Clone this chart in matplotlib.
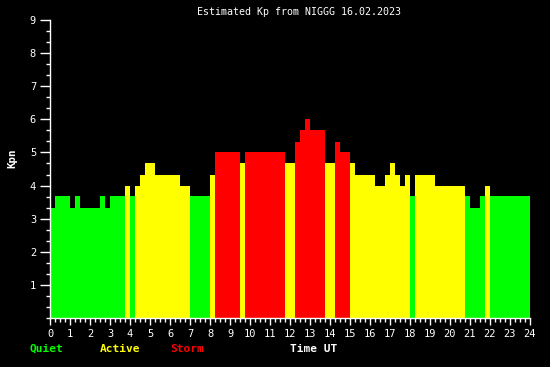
import numpy as np
import matplotlib
matplotlib.use("Agg")
import matplotlib.pyplot as plt
from matplotlib.ticker import MultipleLocator

# Estimated Kp, 15-minute steps from 00:00 UT (96 values)
kp = [
    3.33, 3.67, 3.67, 3.67, 3.33, 3.67, 3.33, 3.33, 3.33, 3.33,
    3.67, 3.33, 3.67, 3.67, 3.67, 4.00, 3.67, 4.00, 4.33, 4.67,
    4.67, 4.33, 4.33, 4.33, 4.33, 4.33, 4.00, 4.00, 3.67, 3.67,
    3.67, 3.67, 4.33, 5.00, 5.00, 5.00, 5.00, 5.00, 4.67, 5.00,
    5.00, 5.00, 5.00, 5.00, 5.00, 5.00, 5.00, 4.67, 4.67, 5.33,
    5.67, 6.00, 5.67, 5.67, 5.67, 4.67, 4.67, 5.33, 5.00, 5.00,
    4.67, 4.33, 4.33, 4.33, 4.33, 4.00, 4.00, 4.33, 4.67, 4.33,
    4.00, 4.33, 3.67, 4.33, 4.33, 4.33, 4.33, 4.00, 4.00, 4.00,
    4.00, 4.00, 4.00, 3.67, 3.33, 3.33, 3.67, 4.00, 3.67, 3.67,
    3.67, 3.67, 3.67, 3.67, 3.67, 3.67,
]
step_h = 0.25
times = np.arange(len(kp)) * step_h

title = "Estimated Kp from NIGGG 16.02.2023"
x_ticks = list(range(0, 25))
y_ticks = list(range(1, 10))
legend_items = [("Quiet", "#00ff00"), ("Active", "#ffff00"), ("Storm", "#ff0000")]

def colour(v):
    if v < 4:
        return "#00ff00"
    if v < 5:
        return "#ffff00"
    return "#ff0000"

W, H = 550, 367
fig = plt.figure(figsize=(W / 100, H / 100), dpi=100, facecolor="black")
ax = fig.add_axes([50 / W, (H - 318) / H, 480 / W, (318 - 20) / H])
ax.set_facecolor("black")

ax.bar(times, kp, width=step_h, align="edge",
       color=[colour(v) for v in kp], linewidth=0)

ax.set_xlim(0, 24)
ax.set_ylim(0, 9)
ax.set_xticks(x_ticks)
ax.set_xticklabels([str(t) for t in x_ticks])
ax.set_yticks(y_ticks)
ax.set_yticklabels([str(t) for t in y_ticks])
ax.xaxis.set_minor_locator(MultipleLocator(0.25))
ax.yaxis.set_minor_locator(MultipleLocator(1 / 3))

mono = "DejaVu Sans Mono"
for s in ("top", "right"):
    ax.spines[s].set_visible(False)
for s in ("left", "bottom"):
    ax.spines[s].set_color("white")
    ax.spines[s].set_linewidth(1)

ax.tick_params(axis="both", which="major", colors="white", length=5, width=1,
               labelsize=7.5, pad=3)
ax.tick_params(axis="both", which="minor", colors="white", length=3, width=1)
ax.tick_params(axis="y", which="major", length=7)
for lab in ax.get_xticklabels() + ax.get_yticklabels():
    lab.set_fontfamily(mono)

fig.text(299 / W, 1 - 12 / H, title, color="white", family=mono,
         fontsize=7.2, ha="center", va="center")
fig.text(12 / W, 1 - 158 / H, "Kpn", color="white", family=mono,
         fontweight="bold", fontsize=7.8, rotation=90, ha="center", va="center")

legend_x = [30, 100, 170]
for (name, col), x in zip(legend_items, legend_x):
    fig.text(x / W, 1 - 349 / H, name, color=col, family=mono,
             fontweight="bold", fontsize=8, ha="left", va="center")
fig.text(314 / W, 1 - 349 / H, "Time UT", color="white", family=mono,
         fontweight="bold", fontsize=8, ha="center", va="center")

fig.savefig("out.png", dpi=100, facecolor="black")
